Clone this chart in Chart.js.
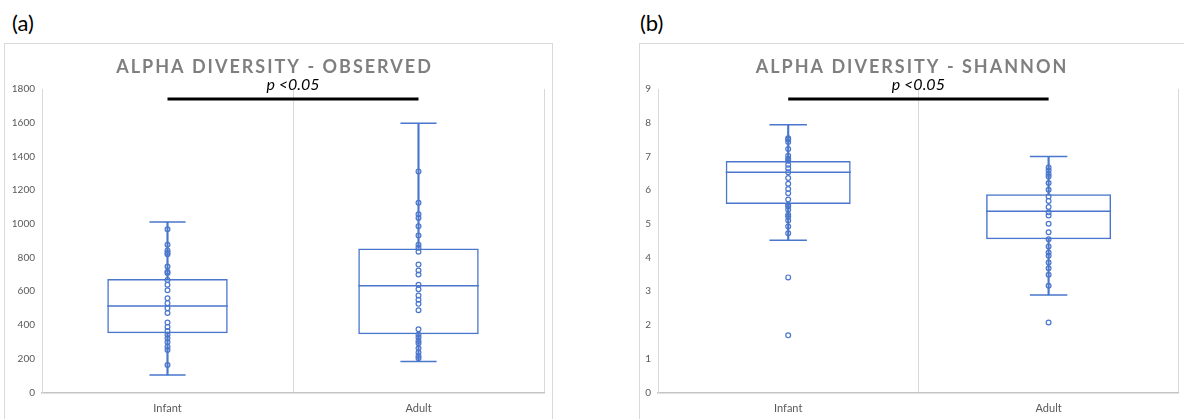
<!DOCTYPE html>
<html>
<head>
<meta charset="utf-8">
<script src="https://cdn.jsdelivr.net/npm/chart.js@4.4.1/dist/chart.umd.min.js"></script>
<style>
  body { margin: 0; background: #fff; width: 1184px; height: 419px; overflow: hidden; position: relative; font-family: Lato, sans-serif; }
  .tag { position: absolute; top: 10px; font-size: 22px; color: #000; line-height: 26px; }
  .card { position: absolute; top: 43px; height: 400px; border: 1px solid #d9d9d9; box-sizing: border-box; overflow: hidden; }
  .card canvas { position: absolute; left: 0; top: 0; }
</style>
</head>
<body>
<div class="tag" style="left:12px">(a)</div>
<div class="tag" style="left:640px">(b)</div>
<div class="card" style="left:4px;width:549px"><canvas id="observed" width="547" height="375"></canvas></div>
<div class="card" style="left:639px;width:560px"><canvas id="shannon" width="544" height="375"></canvas></div>
<script>
const categories = ['Infant', 'Adult'];

// observed richness
const obsTicks = [0, 200, 400, 600, 800, 1000, 1200, 1400, 1600, 1800];
const obsMin = [103, 183];
const obsQ1 = [350, 345];
const obsMedian = [512, 632];
const obsQ3 = [672, 854];
const obsMax = [1010, 1597];
const obsInfant = [968, 875, 842, 828, 820, 747, 716, 708, 667, 638, 606, 558, 529, 499, 471, 414, 388, 364, 341, 321, 297, 271, 251, 162];
const obsAdult = [1311, 1125, 1057, 1034, 986, 931, 875, 858, 834, 758, 723, 699, 638, 612, 574, 549, 525, 487, 374, 341, 325, 305, 291, 261, 236, 216, 202];
const obsSig = 1740;

// shannon index
const shaTicks = [0, 1, 2, 3, 4, 5, 6, 7, 8, 9];
const shaMin = [4.51, 2.89];
const shaQ1 = [5.59, 4.54];
const shaMedian = [6.53, 5.37];
const shaQ3 = [6.86, 5.88];
const shaMax = [7.94, 7.0];
const shaInfant = [7.54, 7.50, 7.43, 7.22, 7.02, 6.93, 6.87, 6.75, 6.65, 6.53, 6.36, 6.19, 6.03, 5.91, 5.72, 5.56, 5.51, 5.42, 5.27, 5.21, 5.10, 4.92, 4.72, 3.41, 1.69];
const shaAdult = [6.67, 6.58, 6.48, 6.40, 6.21, 6.01, 5.81, 5.68, 5.50, 5.34, 5.25, 5.00, 4.75, 4.54, 4.33, 4.15, 4.05, 3.85, 3.68, 3.49, 3.16, 2.07];
const shaSig = 8.70;

const blue = '#4a77cc';
Chart.defaults.font.family = 'Lato, sans-serif';

// median line, whisker caps, title and p label
const boxExtras = {
  id: 'boxExtras',
  afterDatasetsDraw(chart, args, o) {
    const ctx = chart.ctx, x = chart.scales.x, y = chart.scales.y;
    const boxes = chart.getDatasetMeta(2).data;
    ctx.save();
    ctx.strokeStyle = blue;
    ctx.lineWidth = 1.5;
    categories.forEach((c, i) => {
      const cx = x.getPixelForValue(i);
      const half = boxes[i].width / 2;
      const cap = half * 0.3;
      ctx.beginPath();
      ctx.moveTo(cx - half, y.getPixelForValue(o.median[i]));
      ctx.lineTo(cx + half, y.getPixelForValue(o.median[i]));
      ctx.moveTo(cx - cap, y.getPixelForValue(o.max[i]));
      ctx.lineTo(cx + cap, y.getPixelForValue(o.max[i]));
      ctx.moveTo(cx - cap, y.getPixelForValue(o.min[i]));
      ctx.lineTo(cx + cap, y.getPixelForValue(o.min[i]));
      ctx.stroke();
    });
    // p value above the bracket
    const mid = (x.getPixelForValue(0) + x.getPixelForValue(1)) / 2;
    ctx.fillStyle = '#000';
    ctx.font = 'italic 16px Lato';
    ctx.textAlign = 'center';
    ctx.textBaseline = 'alphabetic';
    ctx.fillText('p <0.05', mid, y.getPixelForValue(o.sig) - 9);
    // title
    ctx.fillStyle = '#7f7f7f';
    ctx.font = 'bold 18px Lato';
    ctx.letterSpacing = '2px';
    ctx.textBaseline = 'middle';
    ctx.fillText(o.title, chart.width / 2 + o.shift, 23);
    ctx.restore();
  }
};

function makeChart(id, title, ticks, lo, q1, med, q3, hi, infant, adult, sig, yWidth, padRight, shift) {
  const pts = infant.map(v => ({ x: categories[0], y: v }))
    .concat(adult.map(v => ({ x: categories[1], y: v })));
  return new Chart(document.getElementById(id), {
    type: 'bar',
    data: {
      labels: categories,
      datasets: [
        {
          type: 'line', data: pts, showLine: false, order: 0,
          pointRadius: 2.4, pointBorderWidth: 1.2, pointBorderColor: blue, pointBackgroundColor: 'rgba(255,255,255,0)'
        },
        {
          type: 'line', data: [{ x: categories[0], y: sig }, { x: categories[1], y: sig }], order: 1,
          borderColor: '#000', borderWidth: 3, pointRadius: 0
        },
        {
          data: categories.map((c, i) => [q1[i], q3[i]]), order: 2, grouped: false,
          backgroundColor: 'rgba(0,0,0,0)', borderColor: blue, borderWidth: 1.5, borderSkipped: false,
          categoryPercentage: 1, barPercentage: 0.48
        },
        {
          data: categories.map((c, i) => [q3[i], hi[i]]), order: 3, grouped: false,
          backgroundColor: blue, barThickness: 1.5
        },
        {
          data: categories.map((c, i) => [lo[i], q1[i]]), order: 3, grouped: false,
          backgroundColor: blue, barThickness: 1.5
        }
      ]
    },
    options: {
      responsive: false,
      animation: false,
      layout: { padding: { top: 45, right: padRight, left: 0, bottom: 0 } },
      plugins: {
        legend: { display: false },
        tooltip: { enabled: false },
        boxExtras: { median: med, min: lo, max: hi, sig: sig, title: title, shift: shift }
      },
      scales: {
        x: {
          grid: { display: true, offset: true, color: '#d9d9d9', drawTicks: false },
          border: { color: '#c4c4c4', width: 1.5 },
          ticks: { color: '#595959', font: { size: 11 }, padding: 10 },
          afterFit: s => { s.height = 26.7; }
        },
        y: {
          min: ticks[0], max: ticks[ticks.length - 1],
          grid: { display: false, drawTicks: false },
          border: { color: '#d9d9d9', width: 1 },
          ticks: { stepSize: ticks[1] - ticks[0], color: '#595959', font: { size: 10 }, padding: 7, callback: v => String(v) },
          afterFit: s => { s.width = yWidth; }
        }
      }
    },
    plugins: [boxExtras]
  });
}

makeChart('observed', 'ALPHA DIVERSITY - OBSERVED', obsTicks, obsMin, obsQ1, obsMedian, obsQ3, obsMax, obsInfant, obsAdult, obsSig, 37, 8, -4);
makeChart('shannon', 'ALPHA DIVERSITY - SHANNON', shaTicks, shaMin, shaQ1, shaMedian, shaQ3, shaMax, shaInfant, shaAdult, shaSig, 18, 5, 0);
</script>
</body>
</html>
